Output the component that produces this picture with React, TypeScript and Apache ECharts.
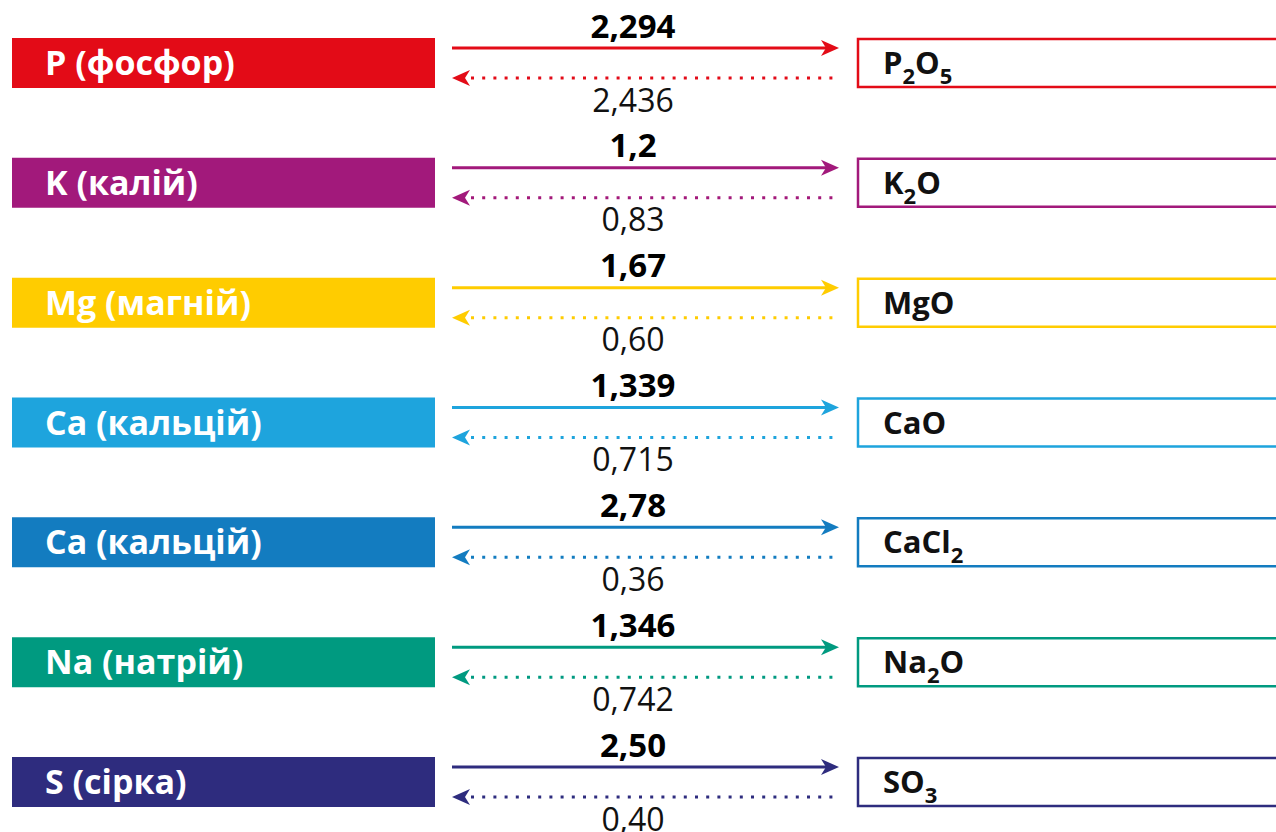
import React, { useEffect, useRef } from "react";
import * as echarts from "echarts";

const elements = ["P (фосфор)", "K (калій)", "Mg (магній)", "Ca (кальцій)", "Ca (кальцій)", "Na (натрій)", "S (сірка)"];
const compounds = ["P_2O_5", "K_2O", "MgO", "CaO", "CaCl_2", "Na_2O", "SO_3"];
const forwardFactors = ["2,294", "1,2", "1,67", "1,339", "2,78", "1,346", "2,50"];
const backwardFactors = ["2,436", "0,83", "0,60", "0,715", "0,36", "0,742", "0,40"];
const rowColors = ["#E30B17", "#A2197B", "#FFCC00", "#1EA4DD", "#137CC0", "#009A80", "#2E2C7E"];

const FONT = "'Open Sans', 'Noto Sans', sans-serif";

function toRich(formula: string): string {
  // "P_2O_5" -> rich text tokens with subscripts
  let out = "";
  let i = 0;
  while (i < formula.length) {
    if (formula[i] === "_") {
      out += "{s|" + formula[i + 1] + "}";
      i += 2;
    } else {
      let j = i;
      while (j < formula.length && formula[j] !== "_") j++;
      out += "{n|" + formula.slice(i, j) + "}";
      i = j;
    }
  }
  return out;
}

export default function App() {
  const ref = useRef<HTMLDivElement>(null);
  useEffect(() => {
    if (!ref.current) return;
    const chart = echarts.init(ref.current, undefined, { renderer: "svg" });
    const data = elements.map((_, i) => [0, i]);
    chart.setOption({
      animation: false,
      backgroundColor: "#ffffff",
      grid: { left: 0, right: 0, top: 63, bottom: 50 },
      xAxis: { type: "value", min: 0, max: 1276, show: false },
      yAxis: { type: "value", min: 0, max: 6, inverse: true, show: false },
      series: [
        {
          type: "custom",
          clip: false,
          data,
          renderItem: (params: any, api: any) => {
            const i = params.dataIndex;
            const c = api.coord([0, i]);
            const cy = c[1];
            const X = (v: number) => api.coord([v, i])[0];
            const color = rowColors[i];
            const xL0 = X(12), xL1 = X(435);
            const xR0 = X(858), xR1 = X(1300);
            const aStart = X(452), aEnd = X(839);
            const ySolid = cy - 15;
            const yDot = cy + 15;
            const head = 18, half = 8, notch = 5;
            return {
              type: "group",
              children: [
                {
                  type: "rect",
                  shape: { x: xL0, y: cy - 25, width: xL1 - xL0, height: 50 },
                  style: { fill: color },
                },
                {
                  type: "text",
                  style: {
                    text: elements[i],
                    x: X(45),
                    y: cy - 1,
                    align: "left",
                    verticalAlign: "middle",
                    fill: "#ffffff",
                    font: `bold 34px ${FONT}`,
                  },
                },
                {
                  type: "rect",
                  shape: { x: xR0, y: cy - 24, width: xR1 - xR0, height: 48 },
                  style: { fill: "#ffffff", stroke: color, lineWidth: 2.5 },
                },
                {
                  type: "text",
                  style: {
                    text: toRich(compounds[i]),
                    x: X(883),
                    y: cy - 1,
                    align: "left",
                    verticalAlign: "middle",
                    rich: {
                      n: { fontFamily: FONT, fontWeight: "bold", fontSize: 31, lineHeight: 36, fill: "#111111" },
                      s: { fontFamily: FONT, fontWeight: "bold", fontSize: 22, lineHeight: 36, fill: "#111111", padding: [26, 0, 0, 0] },
                    },
                  },
                },
                {
                  type: "line",
                  shape: { x1: aStart, y1: ySolid, x2: aEnd - notch - 2, y2: ySolid },
                  style: { stroke: color, lineWidth: 3 },
                },
                {
                  type: "polygon",
                  shape: {
                    points: [
                      [aEnd, ySolid],
                      [aEnd - head, ySolid - half],
                      [aEnd - head + notch, ySolid],
                      [aEnd - head, ySolid + half],
                    ],
                  },
                  style: { fill: color },
                },
                {
                  type: "line",
                  shape: { x1: aStart + head - notch + 6, y1: yDot, x2: aEnd, y2: yDot },
                  style: { stroke: color, lineWidth: 3, lineDash: [3, 8.2] },
                },
                {
                  type: "polygon",
                  shape: {
                    points: [
                      [aStart, yDot],
                      [aStart + head, yDot - half],
                      [aStart + head - notch, yDot],
                      [aStart + head, yDot + half],
                    ],
                  },
                  style: { fill: color },
                },
                {
                  type: "text",
                  style: {
                    text: forwardFactors[i],
                    x: X(633),
                    y: cy - 38,
                    align: "center",
                    verticalAlign: "middle",
                    fill: "#000000",
                    font: `bold 33px ${FONT}`,
                  },
                },
                {
                  type: "text",
                  style: {
                    text: backwardFactors[i],
                    x: X(633),
                    y: cy + 36,
                    align: "center",
                    verticalAlign: "middle",
                    fill: "#111111",
                    font: `normal 32px ${FONT}`,
                  },
                },
              ],
            };
          },
        },
      ],
    });
    return () => chart.dispose();
  }, []);
  return (
    <div
      ref={ref}
      style={{ position: "absolute", left: 0, top: 0, width: 1276, height: 832 }}
    />
  );
}
